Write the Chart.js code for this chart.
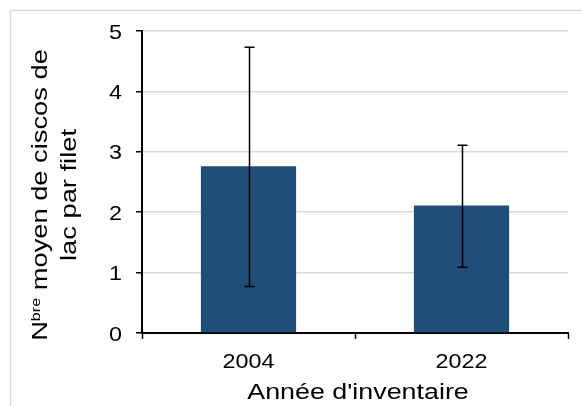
<!DOCTYPE html>
<html>
<head>
<meta charset="utf-8">
<script src="https://cdn.jsdelivr.net/npm/chart.js@4"></script>
<style>
    html, body { margin: 0; padding: 0; background: #ffffff; }
    #wrap { position: relative; width: 582px; height: 406px; }
</style>
</head>
<body>
<div id="wrap"><canvas id="cisco"></canvas></div>
<script>
var categories = ['2004', '2022'];
var means = [2.76, 2.11];
var errLow = [0.77, 1.09];
var errHigh = [4.73, 3.11];
var yMin = 0;
var yMax = 5;
var yStep = 1;

var FONT = "'Liberation Sans', Arial, sans-serif";

/**
 * Draw text squeezed/stretched along its run (the source font is wider than Arial).
 */
var wideText = function(ctx, text, x, y, align, size, sx) {
    ctx.save();
    ctx.font = size + 'px ' + FONT;
    var w = ctx.measureText(text).width * sx;
    var left = x;
    if (align === 'center') {
        left = x - w / 2;
    } else if (align === 'right') {
        left = x - w;
    }
    ctx.translate(left, y);
    ctx.scale(sx, 1);
    ctx.textAlign = 'left';
    ctx.textBaseline = 'alphabetic';
    ctx.fillText(text, 0, 0);
    ctx.restore();
};

/**
 * Light grey frame on the left and top, like the exported chart area.
 */
var framePlugin = {
    id: 'frame',
    beforeDraw: function(chart) {
        var ctx = chart.ctx;
        ctx.save();
        ctx.fillStyle = '#ffffff';
        ctx.fillRect(0, 0, chart.width, chart.height);
        ctx.strokeStyle = '#d9d9d9';
        ctx.lineWidth = 1.5;
        ctx.beginPath();
        ctx.moveTo(10.5, chart.height);
        ctx.lineTo(10.5, 10.5);
        ctx.lineTo(chart.width, 10.5);
        ctx.stroke();
        ctx.restore();
    }
};

/**
 * Error bars drawn from errLow / errHigh through the y scale.
 */
var errorBarPlugin = {
    id: 'errorBars',
    afterDatasetsDraw: function(chart) {
        var ctx = chart.ctx;
        var y = chart.scales.y;
        var meta = chart.getDatasetMeta(0);
        ctx.save();
        ctx.strokeStyle = '#000000';
        ctx.lineWidth = 1.5;
        meta.data.forEach(function(bar, i) {
            var x = Math.round(bar.x) + 0.5;
            var top = y.getPixelForValue(errHigh[i]);
            var bottom = y.getPixelForValue(errLow[i]);
            var cap = 5;
            ctx.beginPath();
            ctx.moveTo(x, top);
            ctx.lineTo(x, bottom);
            ctx.moveTo(x - cap, top);
            ctx.lineTo(x + cap, top);
            ctx.moveTo(x - cap, bottom);
            ctx.lineTo(x + cap, bottom);
            ctx.stroke();
        });
        ctx.restore();
    }
};

/**
 * Tick labels and axis titles, placed from the chart's own scales.
 */
var labelsPlugin = {
    id: 'labels',
    afterDraw: function(chart) {
        var ctx = chart.ctx;
        var xs = chart.scales.x;
        var ys = chart.scales.y;
        var area = chart.chartArea;
        ctx.save();
        ctx.fillStyle = '#000000';

        // y tick labels
        ys.ticks.forEach(function(t) {
            var py = ys.getPixelForValue(t.value);
            wideText(ctx, String(t.value), 122, py + 7.5, 'right', 21, 1.11);
        });

        // x tick labels
        categories.forEach(function(c, i) {
            wideText(ctx, c, xs.getPixelForValue(i), 368, 'center', 21, 1.11);
        });

        // x title
        wideText(ctx, "Année d'inventaire", (area.left + area.right) / 2 + 3, 399, 'center', 22, 1.22);

        // y title, two rotated lines, "bre" as superscript
        var centre = 195;
        var sx = 1.24;
        ctx.font = '22px ' + FONT;
        var wN = ctx.measureText('N').width;
        var wRest = ctx.measureText(' moyen de ciscos de').width;
        ctx.font = '13px ' + FONT;
        var wSup = ctx.measureText('bre').width;
        var total = (wN + wSup + wRest) * sx;

        ctx.save();
        ctx.translate(47, centre);
        ctx.rotate(-Math.PI / 2);
        var start = -total / 2;
        wideText(ctx, 'N', start, 0, 'left', 22, sx);
        wideText(ctx, 'bre', start + wN * sx, -7, 'left', 13, sx);
        wideText(ctx, ' moyen de ciscos de', start + (wN + wSup) * sx, 0, 'left', 22, sx);
        ctx.restore();

        ctx.save();
        ctx.translate(76, centre);
        ctx.rotate(-Math.PI / 2);
        wideText(ctx, 'lac par filet', 0, 0, 'center', 22, sx);
        ctx.restore();

        ctx.restore();
    }
};

new Chart(document.getElementById('cisco'), {
    type: 'bar',
    data: {
        labels: categories,
        datasets: [{
            data: means,
            backgroundColor: '#1f4e79',
            borderWidth: 0,
            categoryPercentage: 1,
            barPercentage: 0.447
        }]
    },
    options: {
        responsive: true,
        maintainAspectRatio: false,
        animation: false,
        layout: {
            padding: {left: 110, right: 14, top: 31, bottom: 0}
        },
        plugins: {
            legend: {display: false},
            tooltip: {enabled: false}
        },
        scales: {
            x: {
                afterFit: function(scale) {
                    scale.height = 73;
                },
                grid: {
                    display: true,
                    drawOnChartArea: false,
                    drawTicks: true,
                    tickLength: 6,
                    tickColor: '#000000',
                    tickWidth: 1.5
                },
                border: {color: '#000000', width: 2},
                ticks: {display: false}
            },
            y: {
                min: yMin,
                max: yMax,
                afterFit: function(scale) {
                    scale.width = 32;
                },
                grid: {
                    color: '#d9d9d9',
                    lineWidth: 1.5,
                    drawTicks: true,
                    tickLength: 6,
                    tickColor: '#000000',
                    tickWidth: 1.5
                },
                border: {color: '#000000', width: 2},
                ticks: {
                    stepSize: yStep,
                    display: false
                }
            }
        }
    },
    plugins: [framePlugin, errorBarPlugin, labelsPlugin]
});
</script>
</body>
</html>
